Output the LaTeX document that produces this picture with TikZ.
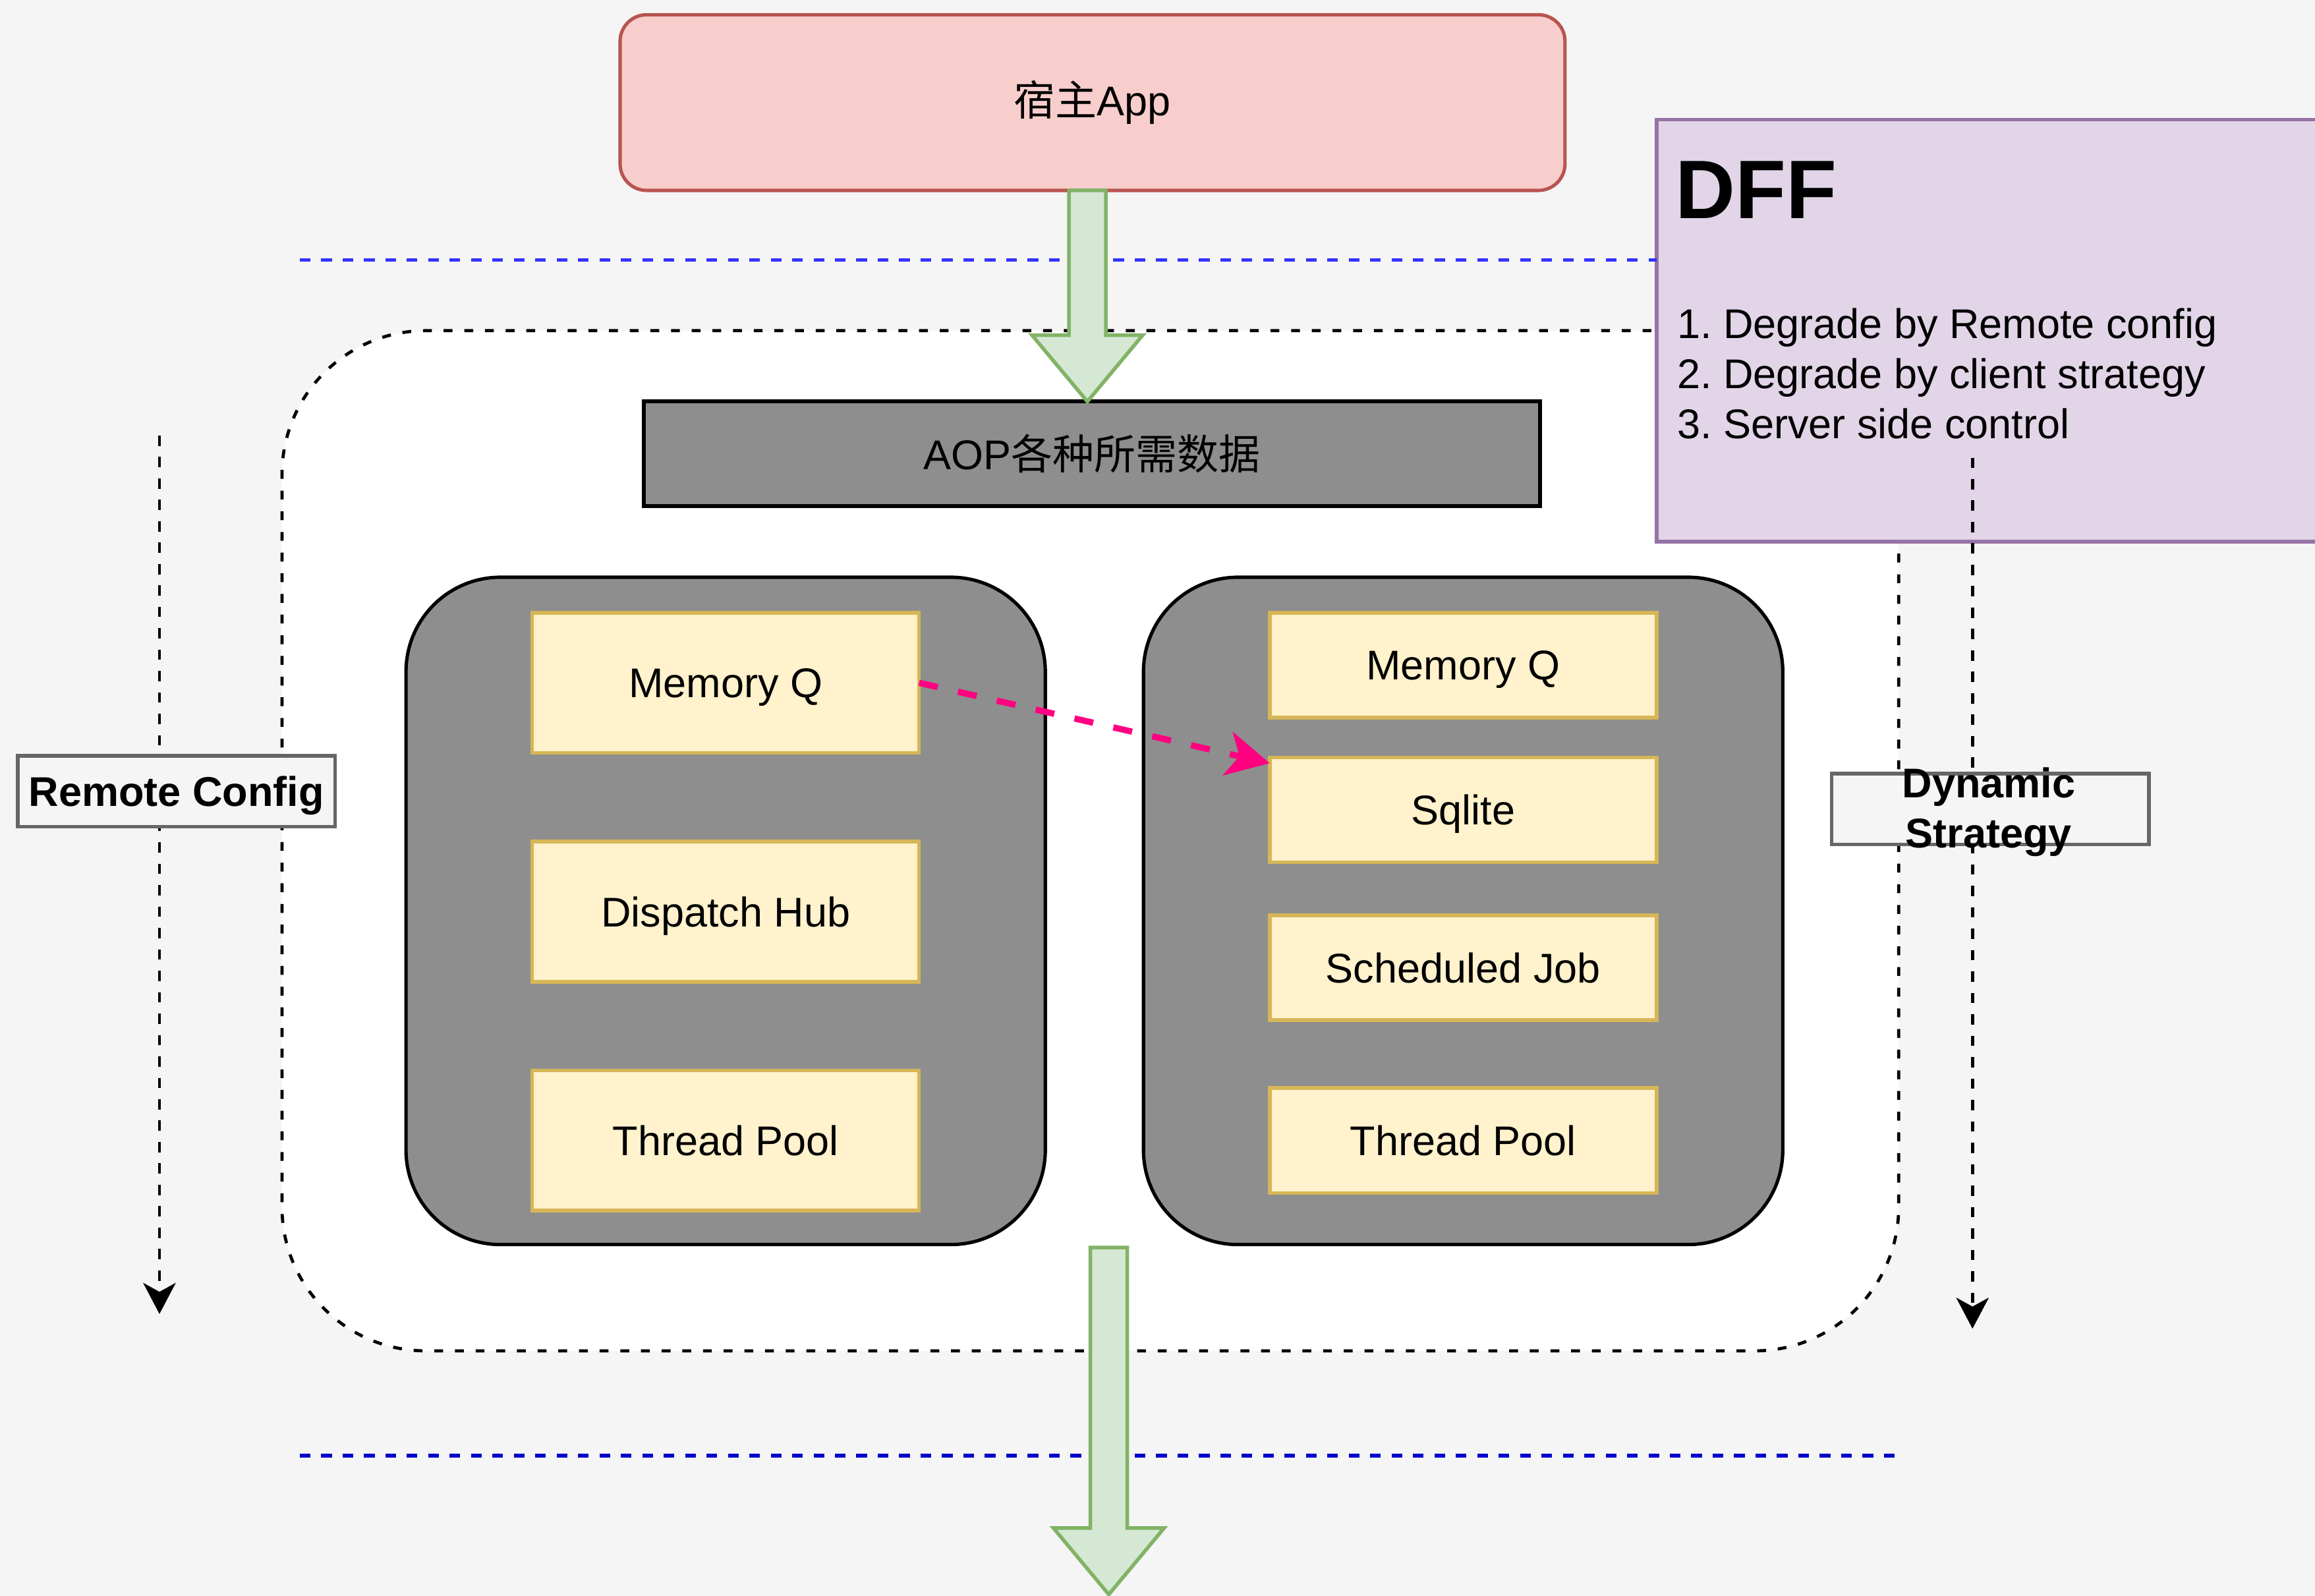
\documentclass[tikz,border=0pt]{standalone}
\usepackage{fontspec}
\setmainfont{Liberation Sans}
\newfontfamily\cjk{Noto Sans CJK SC}
\usetikzlibrary{positioning, calc, arrows.meta}
\frenchspacing

\definecolor{canvas}{HTML}{F5F5F5}
\definecolor{hostfill}{HTML}{F8CECC}
\definecolor{hostline}{HTML}{B85450}
\definecolor{steel}{HTML}{8E8E8E}
\definecolor{yellowfill}{HTML}{FFF2CC}
\definecolor{yellowline}{HTML}{D6B656}
\definecolor{purplefill}{HTML}{E1D5E7}
\definecolor{purpleline}{HTML}{9673A6}
\definecolor{greenfill}{HTML}{D5E8D4}
\definecolor{greenline}{HTML}{82B366}
\definecolor{hotpink}{HTML}{FF0080}
\definecolor{blueA}{HTML}{3333FF}
\definecolor{blueB}{HTML}{0000CC}
\definecolor{tagline}{HTML}{666666}

% fat arrow from #1 down to #2
\newcommand{\flexarrow}[2]{%
    \draw[flow] let \p1 = (#1), \p2 = (#2) in
        ({\x1-\shaft},\y1) -- ({\x1-\shaft},{\y2+\headlen}) -- ({\x1-\barb},{\y2+\headlen})
        -- (\x1,\y2) -- ({\x1+\barb},{\y2+\headlen}) -- ({\x1+\shaft},{\y2+\headlen})
        -- ({\x1+\shaft},\y1) -- cycle;
}

\begin{document}
\begin{tikzpicture}[x = 0.2mm, y = 0.2mm,
    every node/.style = {font=\fontsize{16}{19.3}\selectfont, inner sep=0pt, outer sep=0pt},
    host/.style = {draw=hostline, fill=hostfill, line width=1.3pt, rounded corners=3.6mm,
                   minimum width=128mm, minimum height=23.8mm},
    bar/.style = {draw=black, fill=steel, line width=1.5pt, minimum width=121.4mm, minimum height=14.2mm},
    zone/.style = {draw=black, fill=white, line width=1.2pt, dash pattern=on 1.2mm off 1.6mm,
                   rounded corners=19.5mm, minimum width=219mm, minimum height=138.2mm},
    cluster/.style = {draw=black, fill=steel, line width=1.3pt, rounded corners=12.8mm,
                      minimum width=86.6mm, minimum height=90.4mm},
    block/.style = {draw=yellowline, fill=yellowfill, line width=1.4pt, minimum width=52.4mm, text depth=0pt},
    note/.style = {draw=purpleline, fill=purplefill, line width=1.4pt},
    tag/.style = {draw=tagline, fill=canvas, line width=1.4pt, minimum width=43mm, minimum height=9.6mm,
                  text depth=0pt, font=\bfseries\fontsize{16}{19.3}\selectfont},
    flow/.style = {draw=greenline, fill=greenfill, line width=1.4pt},
    sepline/.style = {line width=1.4pt, dash pattern=on 1.45mm off 1.45mm},
    guide/.style = {draw=black, line width=1.2pt, dash pattern=on 1.4mm off 1.5mm,
                    -{Stealth[length=4.2mm, width=4.4mm, inset=1.2mm]}},
    hop/.style = {draw=hotpink, line width=2.4pt, dash pattern=on 2.6mm off 2.8mm,
                  -{Stealth[length=5.8mm, width=6mm, inset=1.6mm]}}
]
    \useasboundingbox (0,0) rectangle (1568,1081);
    \fill[canvas] (0,0) rectangle (1568,1081);
    \clip (0,0) rectangle (1568,1081);

    \def\shaft{2.5mm}
    \def\barb{7.5mm}
    \def\headlen{9mm}

    % sdk zone
    \node[zone] (core) at (738.5,511.5) {};

    \node[host] (host) at (740,1011.5) {{\cjk 宿主}App};
    \node[bar] (aop) at (739.5,773.5) {AOP{\cjk 各种所需数据}};

    \node[cluster] (lgroup) at (491.5,464) {};
    \node[cluster] (rgroup) at (991,464) {};

    \node[block, minimum height=19mm, below=4.8mm of lgroup.north] (lmq) {Memory Q};
    \node[block, minimum height=19mm, below=12mm of lmq] (hub) {Dispatch Hub};
    \node[block, minimum height=19mm, below=12mm of hub] (lpool) {Thread Pool};

    \node[block, minimum height=14.2mm, below=4.8mm of rgroup.north] (rmq) {Memory Q};
    \node[block, minimum height=14.2mm, below=5.4mm of rmq] (sqlite) {Sqlite};
    \node[block, minimum height=14.2mm, below=7.2mm of sqlite] (job) {Scheduled Job};
    \node[block, minimum height=14.2mm, below=9.2mm of job] (rpool) {Thread Pool};

    % DFF note
    \node[note, minimum width=93.6mm, minimum height=57.2mm] (dff) at (1356,857) {};
    \node[anchor=base west, font=\bfseries\fontsize{32}{38}\selectfont] (dff title) at (1135,933) {DFF};
    \foreach \txt [count=\i] in {Degrade by Remote config, Degrade by client strategy, Server side control}
        \node[anchor=base west] (dff item\i) at (1136,{886-34*\i}) {\i. \txt};

    % layer borders
    \coordinate (sep top) at (203,905);
    \coordinate (sep bot) at (203,95);
    \draw[sepline, blueA] (sep top) -- (sep top -| dff.west);
    \draw[sepline, blueB] (sep bot) -- ($(sep bot -| core.east)+(-3,0)$);

    \flexarrow{$(host.south)+(-3.5,0)$}{aop.north}
    \coordinate (drain top) at (751,236);
    \coordinate (drain end) at (751,1);
    \flexarrow{drain top}{drain end}

    \draw[hop] (lmq.east) -- ($(sqlite.north west)+(0,-4)$);

    % side controls
    \coordinate (rc top) at (108,786);
    \coordinate (rc end) at (108,191);
    \draw[guide] (rc top) -- (rc end);
    \node[tag] (remote) at (119.5,545) {Remote Config};

    \coordinate (ds top) at (1336,771);
    \coordinate (ds end) at (1336,181);
    \draw[guide] (ds top) -- (ds end);
    \node[tag] (strat box) at (1348,533) {};
    \node[font=\bfseries\fontsize{16}{19.3}\selectfont, align=center] (strat) at (1347,531) {Dynamic\\Strategy};
\end{tikzpicture}
\end{document}
